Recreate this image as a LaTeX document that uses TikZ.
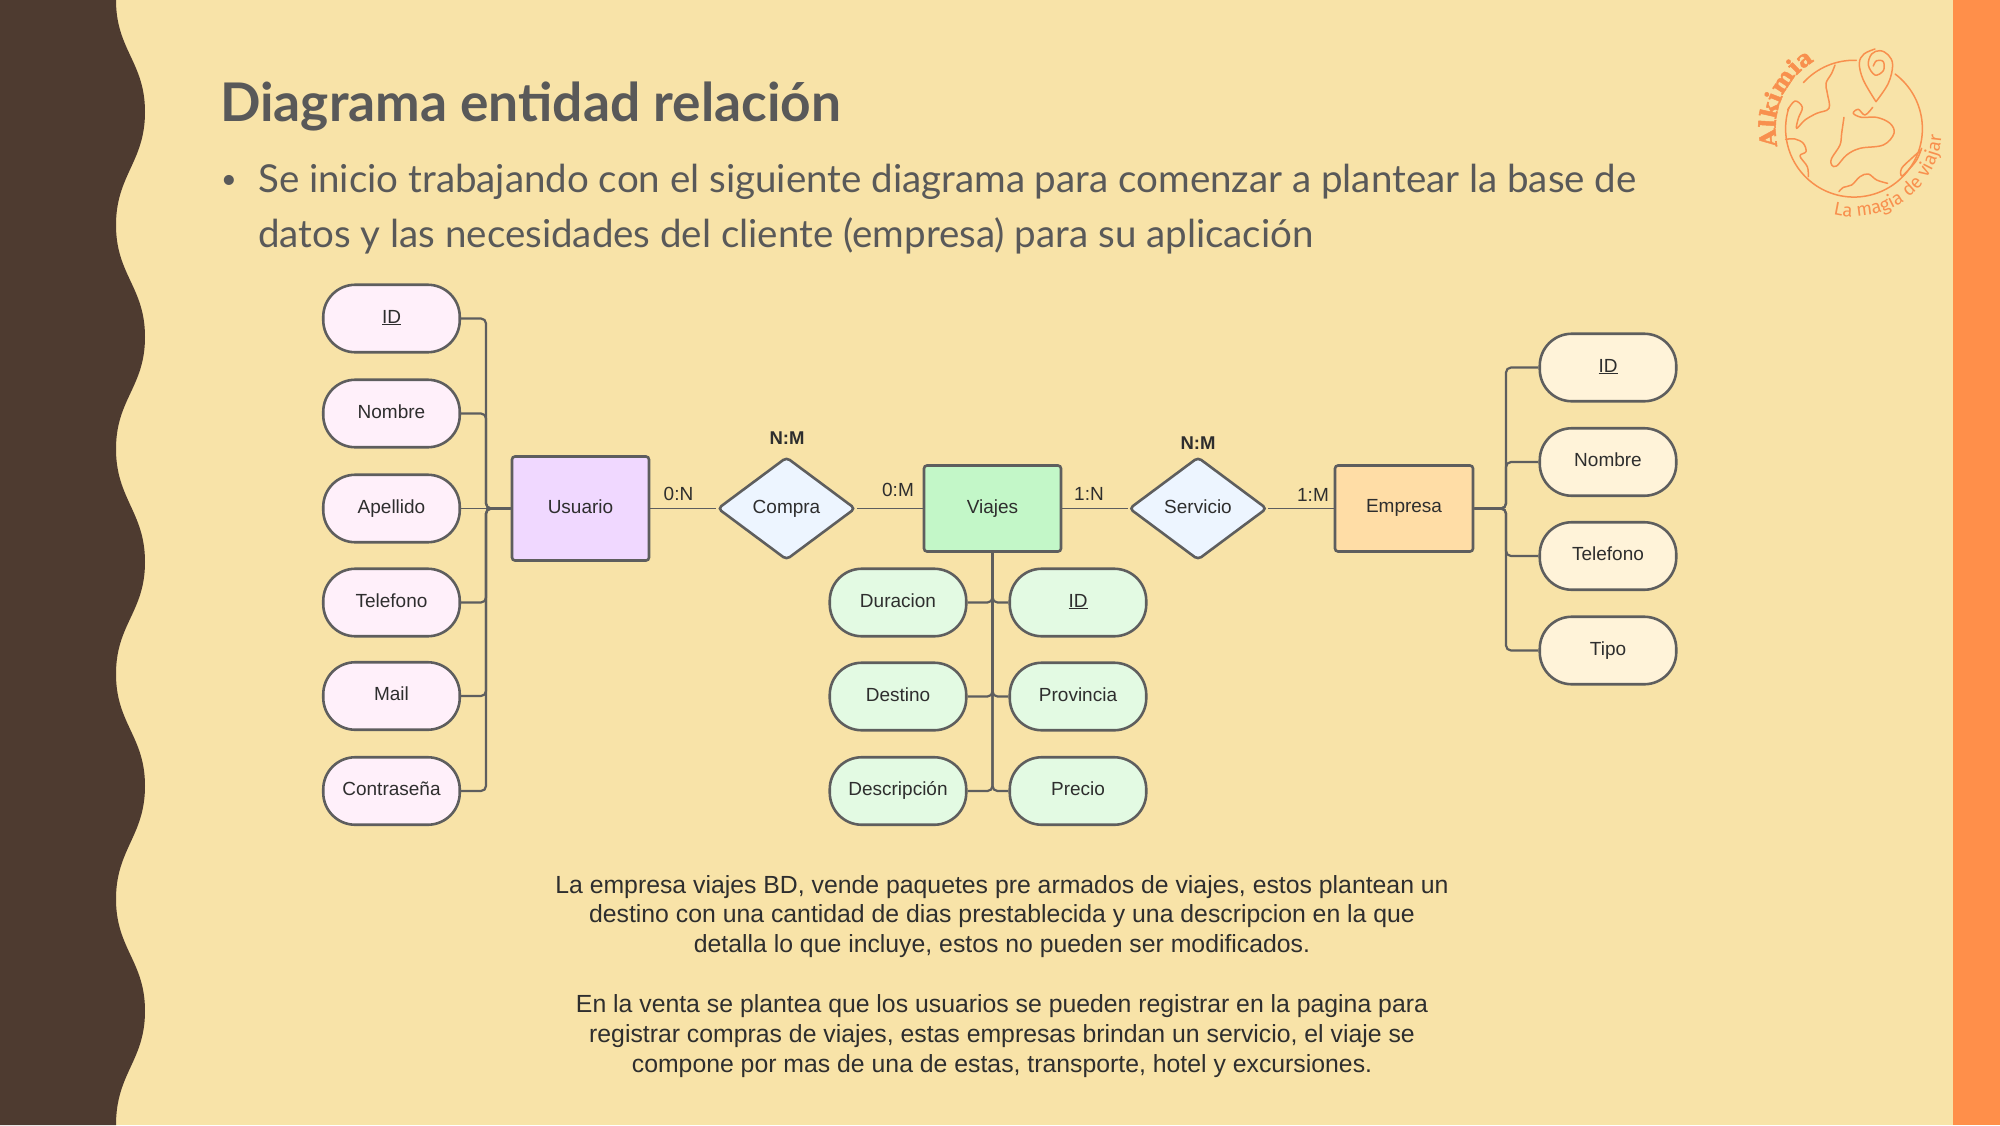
\documentclass[tikz,border=0pt]{standalone}
\usepackage{fontspec}
\setmainfont{Liberation Sans}
\newfontfamily\slidefont{Lato}
\newfontfamily\logoheavy[FakeBold=2]{DejaVu Serif Bold}
\newfontfamily\logolight{Fira Sans}
\usetikzlibrary{shapes.geometric,decorations.text}
\definecolor{bgc}{HTML}{F8E3A8}
\definecolor{darkc}{HTML}{4E3B30}
\definecolor{orangec}{HTML}{FF8F4A}
\definecolor{logoc}{HTML}{F8904E}
\definecolor{linec}{HTML}{5E5E5E}
\definecolor{slidetxt}{HTML}{595959}
\definecolor{txtc}{HTML}{2E2E2E}
\definecolor{pinkf}{HTML}{FFF0FA}
\definecolor{purplef}{HTML}{F0D8FF}
\definecolor{bluef}{HTML}{EDF5FF}
\definecolor{greenf}{HTML}{C3F7C8}
\definecolor{mintf}{HTML}{E3FAE3}
\definecolor{orangef}{HTML}{FFDDA6}
\definecolor{creamf}{HTML}{FFF3D9}
\tikzset{
  lab/.style={font=\fontsize{19}{23}\selectfont,text=txtc,inner sep=0pt},
  attr/.style={lab,draw=linec,line width=2.6pt,rounded corners=32pt,minimum width=136.5pt,minimum height=67.5pt,text height=14pt,text depth=4.6pt},
  ent/.style={lab,draw=linec,line width=2.6pt,rounded corners=3pt,text height=14pt,text depth=4.6pt},
  rel/.style={lab,draw=linec,line width=2.6pt,rounded corners=4pt,diamond,aspect=1.34,minimum width=138pt,minimum height=103pt,text height=14pt,text depth=4.6pt},
  conn/.style={draw=linec,line width=2.2pt,rounded corners=5pt},
  thin conn/.style={draw=linec,line width=1.6pt},
  para/.style={font=\fontsize{24.8}{29.8}\selectfont,text=txtc,align=center,inner sep=0pt},
  logoline/.style={draw=logoc,line width=1.5pt,line cap=round,line join=round}
}
\begin{document}
\begin{tikzpicture}[x=1pt,y=-1pt]
\useasboundingbox (0,0) rectangle (2000,1125);
\fill[bgc] (0,0) rectangle (2000,1125);
\fill[orangec] (1953,0) rectangle (2000,1125);
\fill[darkc] (0,0) -- (116,0)
  .. controls (116,50) and (145,62) .. (145,112)
  .. controls (145,162) and (116,175) .. (116,225)
  .. controls (116,275) and (145,287) .. (145,337)
  .. controls (145,387) and (116,399) .. (116,449)
  .. controls (116,499) and (145,512) .. (145,562)
  .. controls (145,612) and (116,624) .. (116,674)
  .. controls (116,724) and (145,736) .. (145,786)
  .. controls (145,836) and (116,849) .. (116,899)
  .. controls (116,949) and (145,961) .. (145,1011)
  .. controls (145,1061) and (116,1073) .. (116,1125)
  -- (0,1125) -- cycle;

% slide text
\node[anchor=base west,inner sep=0pt,text=slidetxt,font=\slidefont\bfseries\fontsize{53.3}{62}\selectfont] (title) at (220,121) {Diagrama entidad relación};
\node[anchor=base west,inner sep=0pt,text=slidetxt,font=\slidefont\fontsize{27}{32}\selectfont] (bullet) at (221,188) {•};
\node[anchor=base west,inner sep=0pt,text=slidetxt,font=\slidefont\fontsize{38.5}{44}\selectfont] (body1) at (258,192) {Se inicio trabajando con el siguiente diagrama para comenzar a plantear la base de};
\node[anchor=base west,inner sep=0pt,text=slidetxt,font=\slidefont\fontsize{38.5}{44}\selectfont] (body2) at (258,247) {datos y las necesidades del cliente (empresa) para su aplicación};

% left attributes
\foreach \nm/\yy/\tx in {uid/318.5/\underline{ID},unom/413.5/Nombre,uape/508.5/Apellido,utel/602.5/Telefono,umail/696/Mail,upass/791/Contraseña}
  \node[attr,fill=pinkf] (\nm) at (391.5,\yy) {\tx};
\node[ent,fill=purplef,minimum width=137pt,minimum height=104pt] (usuario) at (580.5,508.5) {Usuario};
\node[rel,fill=bluef] (compra) at (786.5,508.5) {Compra};
\node[ent,fill=greenf,minimum width=137pt,minimum height=86pt] (viajes) at (992.5,508.5) {Viajes};
\node[rel,fill=bluef] (servicio) at (1198,508.5) {Servicio};
\node[ent,fill=orangef,minimum width=138pt,minimum height=86pt,text depth=7pt] (empresa) at (1404,508.5) {Empresa};

% viajes attributes
\foreach \nm/\yy/\tx in {vdur/602.5/Duracion,vdes/696.5/Destino,vdsc/791/Descripción}
  \node[attr,fill=mintf] (\nm) at (898,\yy) {\tx};
\foreach \nm/\yy/\tx in {vid/602.5/\underline{ID},vpro/696.5/Provincia,vpre/791/Precio}
  \node[attr,fill=mintf] (\nm) at (1078,\yy) {\tx};

% empresa attributes
\foreach \nm/\yy/\tx in {eid/367.5/\underline{ID},enom/462/Nombre,etel/556/Telefono,etip/650.5/Tipo}
  \node[attr,fill=creamf] (\nm) at (1608,\yy) {\tx};

% connectors
\coordinate (busU) at (486,508.5);
\coordinate (busE) at (1506,508.5);
\foreach \nm in {uid,unom,utel,umail,upass}
  \draw[conn] (\nm.east) -| (busU) -- (usuario.west);
\draw[thin conn] (uape.east) -- (usuario.west);
\foreach \nm in {eid,enom,etel,etip}
  \draw[conn] (\nm.west) -| (busE) -- (empresa.east);
\foreach \nm in {vdur,vdes,vdsc}
  \draw[conn] (viajes.south) |- (\nm.east);
\foreach \nm in {vid,vpro,vpre}
  \draw[conn] (viajes.south) |- (\nm.west);
\draw[thin conn] (usuario.east) -- (compra.west);
\draw[thin conn] (compra.east) -- (viajes.west);
\draw[thin conn] (viajes.east) -- (servicio.west);
\draw[thin conn] (servicio.east) -- (empresa.west);

% cardinalities
\node[lab,font=\bfseries\fontsize{18.5}{22}\selectfont] (nm1) at (787,438) {N:M};
\node[lab,font=\bfseries\fontsize{18.5}{22}\selectfont] (nm2) at (1198,443) {N:M};
\node[lab] (c1) at (678.5,494) {0:N};
\node[lab] (c2) at (898,490) {0:M};
\node[lab] (c3) at (1089,494) {1:N};
\node[lab] (c4) at (1313,495) {1:M};

% paragraphs
\node[para] (p1) at (1002,916.5) {La empresa viajes BD, vende paquetes pre armados de viajes, estos plantean un\\destino con una cantidad de dias prestablecida y una descripcion en la que\\detalla lo que incluye, estos no pueden ser modificados.};
\node[para] (p2) at (1002,1036) {En la venta se plantea que los usuarios se pueden registrar en la pagina para\\registrar compras de viajes, estas empresas brindan un servicio, el viaje se\\compone por mas de una de estas, transporte, hotel y excursiones.};

% logo
\begin{scope}[x=0.33333pt,y=-0.33333pt,shift={(5160,90)}]
\coordinate (C) at (402,296);
\draw[logoline] ([shift={(137.6:68.4pt)}]C) arc[start angle=137.6,end angle=88,radius=68.4pt];
\draw[logoline] ([shift={(53:68.4pt)}]C) arc[start angle=53,end angle=-198,radius=68.4pt];
\draw[logoline] plot[smooth,tension=.6] coordinates {(203,240) (225,213) (247,232) (235,265) (230,295) (255,270) (290,250) (327,235) (322,190) (318,160) (335,130) (345,105)};
\draw[logoline] plot[smooth,tension=.6] coordinates {(197,328) (225,327) (250,340) (258,365) (240,378) (262,410) (265,440)};
\draw[logoline] plot[smooth,tension=.6] coordinates {(372,262) (365,310) (360,345) (335,385) (335,405) (350,408) (380,375) (420,355) (490,345) (522,310) (510,280) (470,262) (425,262) (400,250) (415,238) (435,255) (458,232)};
\draw[logoline] plot[smooth,tension=.6] coordinates {(357,485) (370,472) (395,465) (420,440) (445,432) (470,450) (503,460)};
\draw[logoline] plot[smooth,tension=.6] coordinates {(603,360) (575,385) (545,415) (545,438) (565,420) (590,390) (605,355)};
\draw[logoline] plot[smooth,tension=.6] coordinates {(468,215) (430,150) (418,100) (432,72) (465,57)};
\draw[logoline] plot[smooth,tension=.6] coordinates {(468,215) (505,160) (518,105) (505,75) (480,62) (455,72) (445,105) (465,135) (490,122) (490,95) (470,92) (460,108)};
\path[decorate,decoration={text along path,text align={center},text={|\logoheavy\fontsize{23}{27}\selectfont\color{logoc}|Alkimia}}]
  ([shift={(195:78.3pt)}]C) arc[start angle=195,end angle=118,radius=78.3pt];
\path[decorate,decoration={text along path,text align={center},text={|\logolight\fontsize{18.5}{22}\selectfont\color{logoc}|La magia de viajar}}]
  ([shift={(246:88pt)}]C) arc[start angle=246,end angle=366,radius=88pt];
\end{scope}
\end{tikzpicture}
\end{document}
